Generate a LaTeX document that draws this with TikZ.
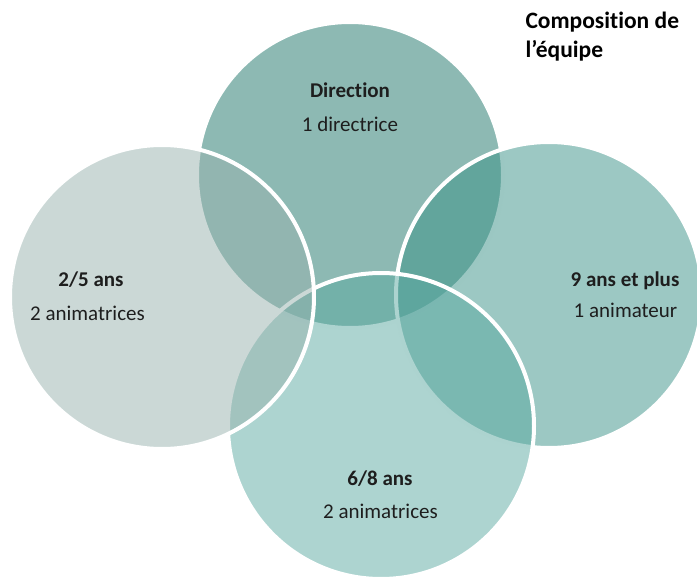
\documentclass[tikz,border=0pt]{standalone}
\usepackage{fontspec}
\setmainfont[RawFeature={-liga}]{Carlito}
\definecolor{dircol}{RGB}{27,115,103}
\definecolor{petitscol}{RGB}{152,178,174}
\definecolor{grandscol}{RGB}{57,145,135}
\definecolor{moyenscol}{RGB}{91,169,161}
\definecolor{txtcol}{RGB}{30,30,30}
\begin{document}
\begin{tikzpicture}[x=1pt,y=-1pt,
    bubble/.style={circle, inner sep=0pt, minimum size=306pt, draw=white, line width=4pt, fill opacity=0.5},
    headlbl/.style={anchor=base, text=txtcol, font=\bfseries\fontsize{21}{25}\selectfont},
    sublbl/.style={anchor=base, text=txtcol, font=\fontsize{21}{25}\selectfont},
    titlelbl/.style={anchor=base west, text=black, font=\bfseries\fontsize{23.5}{28}\selectfont}]
% Page frame
\useasboundingbox (0,0) rectangle (697,578);

% Circles, back to front
\node[bubble, fill=dircol] (dir) at (350,175) {};
\node[bubble, fill=grandscol] (grands) at (549,295) {};
\node[bubble, fill=moyenscol] (moyens) at (381,426) {};
\node[bubble, fill=petitscol, minimum size=304pt] (petits) at (162,297) {};

% Labels
\node[headlbl] (dirhead) at (350,98) {Direction};
\node[sublbl] (dirsub) at (350,131.5) {1 directrice};
\node[headlbl] (petitshead) at (91,286.5) {2/5 ans};
\node[sublbl] (petitssub) at (87.5,320) {2 animatrices};
\node[headlbl] (grandshead) at (625,286) {9 ans et plus};
\node[sublbl] (grandssub) at (625.5,317.5) {1 animateur};
\node[headlbl] (moyenshead) at (380,485) {6/8 ans};
\node[sublbl] (moyenssub) at (380.5,518.5) {2 animatrices};

% Title
\node[titlelbl] (title1) at (522,28.5) {Composition de};
\node[titlelbl] (title2) at (522,58) {l’équipe};
\end{tikzpicture}
\end{document}
